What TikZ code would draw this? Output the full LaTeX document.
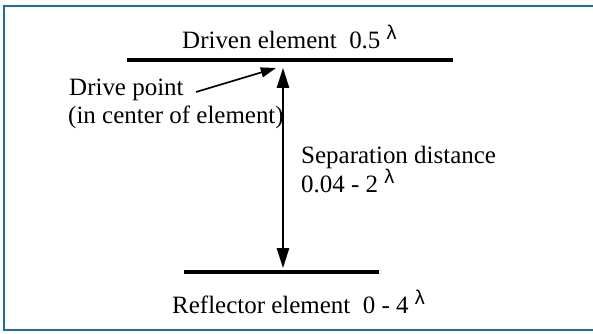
\documentclass[tikz,border=0pt]{standalone}
\usepackage{fontspec}
\setmainfont{Liberation Serif}
\newfontfamily\timesfont{Liberation Serif}
\newfontfamily\arialfont{Liberation Sans}
\usetikzlibrary{arrows.meta}
\definecolor{frameblue}{HTML}{1A6DB3}
\newcommand{\wavelen}{\raisebox{7pt}{\arialfont\fontsize{17}{17}\selectfont λ}}

\begin{document}
\begin{tikzpicture}[x=0.03cm,y=-0.03cm,
  element/.style={line width=3.6pt},
  label/.style={anchor=base west,inner sep=0pt,font=\timesfont\fontsize{21.3}{24.7}\selectfont},
  frame/.style={draw=frameblue,line width=2.1pt}]
  \useasboundingbox (0,0) rectangle (593,333);
  % Frame (open on the right)
  \draw[frame] (593,6) -- (4,6) -- (4,330) -- (593,330);
  % Elements
  \coordinate (drivenL) at (127,60);
  \coordinate (drivenR) at (453,60);
  \coordinate (reflL) at (184,272);
  \coordinate (reflR) at (379,272);
  \draw[element] (drivenL) -- (drivenR);
  \draw[element] (reflL) -- (reflR);
  % Separation arrow
  \coordinate (feed) at (283,68);
  \coordinate (reflmid) at (283,268);
  \draw[line width=1.4pt,{Triangle[length=17pt,width=10.5pt]}-{Triangle[length=17pt,width=10.5pt]}] (feed) -- (reflmid);
  % Drive point pointer
  \coordinate (drivetail) at (196,92);
  \coordinate (drivetip) at (276,68);
  \draw[line width=1.4pt,-{Triangle[length=13pt,width=8.5pt]}] (drivetail) -- (drivetip);
  % Labels
  \node[label] (driven) at (182,48) {Driven element\ \ 0.5 \wavelen};
  \node[label] (drivept) at (69,95) {Drive point};
  \node[label] (drivecenter) at (68,123) {(in center of element)};
  \node[label] (sep) at (301,163) {Separation distance};
  \node[label] (sepval) at (301,192) {0.04 - 2 \wavelen};
  \node[label] (refl) at (172,313) {Reflector element\ \ 0 - 4 \wavelen};
\end{tikzpicture}
\end{document}
